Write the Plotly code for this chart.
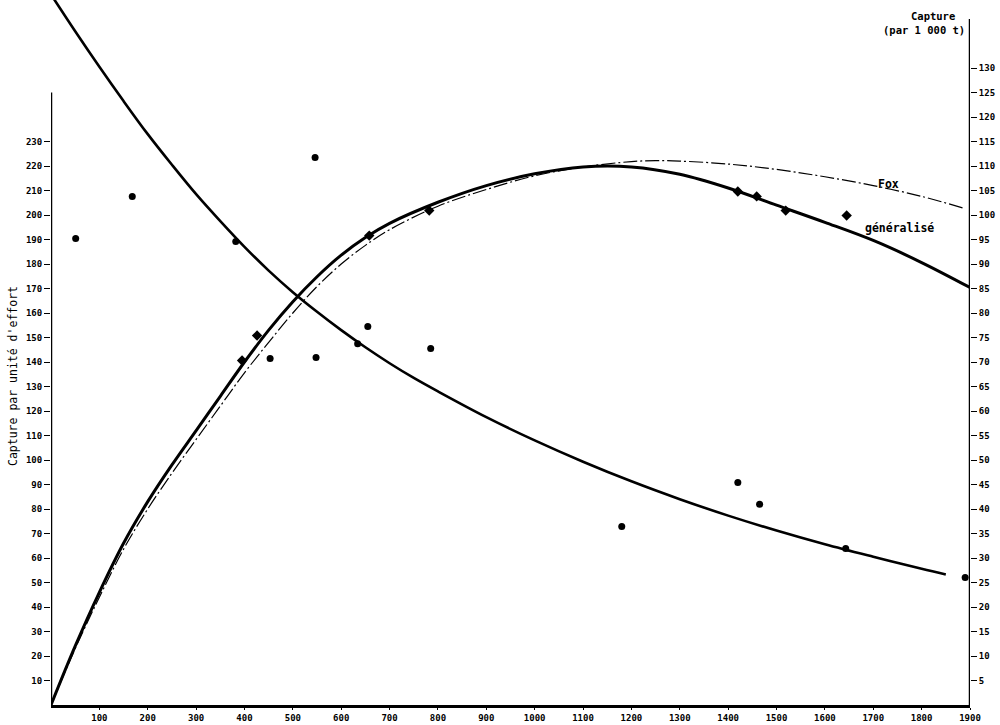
import plotly.graph_objects as go

# ---- data ----
# Decreasing curve: capture par unité d'effort (left axis)
cpue_curve_effort = [0, 50, 100, 150, 200, 250, 300, 350, 400, 450, 500, 550, 600, 650, 700,
                     750, 800, 900, 1000, 1100, 1200, 1300, 1400, 1500, 1600, 1700, 1800, 1850]
cpue_curve_value = [290, 275, 260.5, 246.5, 233, 220.5, 208.5, 197.5, 187, 177.3, 168.5, 160.5,
                    153, 146, 139.5, 133.5, 128, 117.5, 108, 99.3, 91.3, 84, 77.3, 71.2, 65.6,
                    60.5, 55.6, 53.3]

# Generalised production curve (right axis, capture in 1000 t)
gen_effort = [0, 50, 100, 150, 200, 250, 300, 350, 400, 450, 500, 550, 600, 650, 700,
              800, 900, 1000, 1100, 1200, 1300, 1400, 1500, 1600, 1700, 1800, 1900]
gen_catch = [0, 12, 23, 33, 41.5, 49, 56, 63, 70, 76.5, 82.3, 87.4, 91.8, 95.4, 98.3,
             102.6, 106, 108.4, 109.8, 109.8, 108.3, 105.5, 102, 98.5, 94.8, 90.3, 85.2]

# Fox production curve (right axis)
fox_effort = [0, 50, 100, 150, 200, 250, 300, 350, 400, 450, 500, 550, 600, 650, 700,
              800, 900, 1000, 1100, 1200, 1250, 1300, 1400, 1500, 1600, 1700, 1800, 1890]
fox_catch = [0, 11.5, 22, 31.8, 40, 47.3, 54.2, 61, 67.8, 74, 80, 85.4, 90, 93.8, 97,
             101.8, 105.2, 108, 109.8, 110.9, 111.1, 111.0, 110.4, 109.3, 107.8, 106, 103.8, 101.3]

# Observed CPUE points (left axis)
cpue_pts_effort = [51, 168, 382, 453, 546, 548, 634, 655, 785, 1180, 1420, 1465, 1643, 1890]
cpue_pts_value = [190.4, 207.6, 189.2, 141.4, 223.5, 141.8, 147.5, 154.5, 145.5, 72.9, 90.8, 81.9, 63.9, 52.0]

# Observed catch points (right axis)
catch_pts_effort = [395, 426, 658, 782, 1420, 1459, 1519, 1645]
catch_pts_value = [70.3, 75.4, 95.8, 100.9, 104.8, 103.8, 100.9, 99.9]

left_ticks = list(range(10, 240, 10))
right_ticks = list(range(5, 135, 5))
x_ticks = list(range(100, 2000, 100))

FONT = "DejaVu Sans Mono"
tickfont = dict(family=FONT, size=9, color="black", weight="bold")

fig = go.Figure()

fig.add_trace(go.Scatter(x=cpue_curve_effort, y=cpue_curve_value, mode="lines",
                         line=dict(color="black", width=2.6, shape="spline"),
                         yaxis="y", showlegend=False))
fig.add_trace(go.Scatter(x=gen_effort, y=gen_catch, mode="lines",
                         line=dict(color="black", width=3, shape="spline"),
                         yaxis="y2", showlegend=False))
fig.add_trace(go.Scatter(x=fox_effort, y=fox_catch, mode="lines",
                         line=dict(color="black", width=1.2, shape="spline",
                                   dash="14px,3px,2px,3px"),
                         yaxis="y2", showlegend=False))
fig.add_trace(go.Scatter(x=cpue_pts_effort, y=cpue_pts_value, mode="markers",
                         marker=dict(color="black", size=7, symbol="circle"),
                         yaxis="y", showlegend=False))
fig.add_trace(go.Scatter(x=catch_pts_effort, y=catch_pts_value, mode="markers",
                         marker=dict(color="black", size=8, symbol="diamond"),
                         yaxis="y2", showlegend=False))

# axis lines
fig.add_shape(type="line", xref="x", yref="y", x0=0, x1=0, y0=0, y1=250,
              line=dict(color="black", width=2.5))
fig.add_shape(type="line", xref="x", yref="y2", x0=1900, x1=1900, y0=0, y1=140,
              line=dict(color="black", width=2.5))

W, H = 1000, 725
ML, MR, MT, MB = 51, 30, 0, 20
PW, PH = W - ML - MR, H - MT - MB
PXU = 2.45  # pixels per left-axis unit


def px(xp):
    return (xp - ML) / PW


def py(yp):
    return (H - MB - yp) / PH


fig.update_layout(
    width=W, height=H,
    margin=dict(l=ML, r=MR, t=MT, b=MB, autoexpand=False),
    paper_bgcolor="white", plot_bgcolor="white",
    xaxis=dict(range=[0, 1900], tickvals=x_ticks, ticktext=[str(v) for v in x_ticks],
               showgrid=False, zeroline=False, showline=True, linecolor="black", linewidth=2.5,
               ticks="outside", ticklen=2, tickcolor="black", tickfont=tickfont,
               automargin=False),
    yaxis=dict(range=[0, PH / PXU], tickvals=left_ticks, ticktext=[str(v) for v in left_ticks],
               showgrid=False, zeroline=False, showline=False,
               ticks="outside", ticklen=6, tickwidth=1.2, tickcolor="black", tickfont=tickfont,
               automargin=False),
    yaxis2=dict(range=[0, PH / PXU / 2], overlaying="y", side="right",
                tickvals=right_ticks, ticktext=[str(v) for v in right_ticks],
                showgrid=False, zeroline=False, showline=False,
                ticks="outside", ticklen=6, tickwidth=1.2, tickcolor="black", tickfont=tickfont,
                automargin=False),
    showlegend=False,
)

fig.add_annotation(text="Capture par unité d'effort", xref="paper", yref="paper",
                   x=px(13), y=py(376), textangle=-90, showarrow=False,
                   font=dict(family=FONT, size=11.5, color="black"),
                   xanchor="center", yanchor="middle")
fig.add_annotation(text="Capture", xref="paper", yref="paper", x=px(933), y=py(16),
                   showarrow=False, font=dict(family=FONT, size=10.5, color="black", weight="bold"),
                   xanchor="center", yanchor="middle")
fig.add_annotation(text="(par 1 000 t)", xref="paper", yref="paper", x=px(924), y=py(30),
                   showarrow=False, font=dict(family=FONT, size=10.5, color="black", weight="bold"),
                   xanchor="center", yanchor="middle")
fig.add_annotation(text="Fox", xref="paper", yref="paper", x=px(888), y=py(184),
                   showarrow=False, font=dict(family=FONT, size=11.5, color="black", weight="bold"),
                   xanchor="center", yanchor="middle")
fig.add_annotation(text="généralisé", xref="paper", yref="paper", x=px(899), y=py(228),
                   showarrow=False, font=dict(family=FONT, size=11.5, color="black", weight="bold"),
                   xanchor="center", yanchor="middle")

fig.write_html("out.html", config={"displayModeBar": False},
               post_script="document.body.style.margin='0';document.body.style.overflow='hidden';")
